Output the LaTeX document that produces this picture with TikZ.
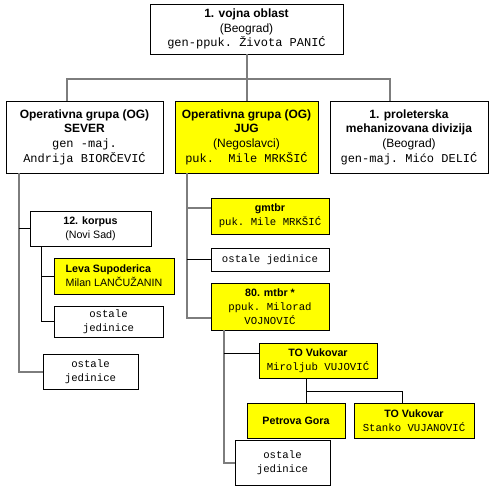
\documentclass[tikz,border=0pt]{standalone}
\usepackage{fontspec}
\setmainfont{Liberation Sans}
\setmonofont{Liberation Mono}
\usepackage{tikz}
\usetikzlibrary{positioning, calc}
\definecolor{obYellow}{RGB}{255, 255, 0}
\definecolor{obGray}{RGB}{125, 125, 125}

\begin{document}
\begin{tikzpicture}[x=0.75pt, y=-0.75pt,
  unitbox/.style={draw, line width=0.6pt, fill=white, inner sep=1pt, align=center, font=\fontsize{8}{10.5}\selectfont},
  hqbox/.style={unitbox, font=\fontsize{9}{11}\selectfont},
  yel/.style={fill=obYellow},
  wh/.style 2 args={minimum width=#1*0.75pt, minimum height=#2*0.75pt},
  trunk/.style={obGray, line width=1.5pt},
  twig/.style={black, line width=0.6pt}]
  \useasboundingbox (0,0) rectangle (490,497);

  % Command level
  \node[hqbox, wh={193}{50}] (vo) at (246.5,29)
    {\textbf{1. vojna oblast}\\(Beograd)\\\texttt{gen-ppuk. Života PANIĆ}};

  % Operational groups
  \node[hqbox, wh={157}{72}] (sever) at (84.5,137)
    {\textbf{Operativna grupa (OG)}\\\textbf{SEVER}\\\texttt{gen -maj.}\\\texttt{Andrija BIORČEVIĆ}};
  \node[hqbox, yel, wh={143}{72}] (jug) at (246.5,137)
    {\textbf{Operativna grupa (OG)}\\\textbf{JUG}\\(Negoslavci)\\\texttt{puk.~~Mile MRKŠIĆ}};
  \node[hqbox, wh={158}{72}] (prol) at (409,137)
    {\textbf{1. proleterska}\\\textbf{mehanizovana divizija}\\(Beograd)\\\texttt{gen-maj. Mićo DELIĆ}};

  % SEVER units
  \node[unitbox, wh={121}{35}] (korpus) at (90.5,228.5) {\textbf{12. korpus}\\(Novi Sad)};
  \node[unitbox, yel, wh={120}{36}, align=left] (leva) at (114,276)
    {\textbf{Leva Supoderica}\\Milan LANČUŽANIN};
  \node[unitbox, wh={109}{31}] (ost1) at (108.5,321.5) {\texttt{ostale}\\\texttt{jedinice}};
  \node[unitbox, wh={95}{35}] (ost2) at (90.5,371.5) {\texttt{ostale}\\\texttt{jedinice}};

  % JUG units
  \node[unitbox, yel, wh={118}{36}] (gmtbr) at (270,216) {\textbf{gmtbr}\\\texttt{puk. Mile MRKŠIĆ}};
  \node[unitbox, wh={118}{23}] (ost3) at (270,259.5) {\texttt{ostale jedinice}};
  \node[unitbox, yel, wh={118}{47}] (mtbr) at (270,306.5)
    {\textbf{80. mtbr *}\\\texttt{ppuk. Milorad}\\\texttt{VOJNOVIĆ}};
  \node[unitbox, yel, wh={118}{35}] (tov1) at (318,360.5) {\textbf{TO Vukovar}\\\texttt{Miroljub VUJOVIĆ}};
  \node[unitbox, yel, wh={98}{35}] (petrova) at (296,420.5) {\textbf{Petrova Gora}};
  \node[unitbox, yel, wh={120}{35}] (tov2) at (414,420.5) {\textbf{TO Vukovar}\\\texttt{Stanko VUJANOVIĆ}};
  \node[unitbox, wh={95}{45}] (ost4) at (282.5,462.5) {\texttt{ostale}\\\texttt{jedinice}};

  % Top bus
  \draw[trunk] (vo.south) -- ++(0,25) coordinate (bus);
  \draw[trunk] ($(sever.north west)+(61,0)$) |- (bus) -| ($(prol.north west)+(60,0)$);
  \draw[trunk] (bus) -- (jug.north);

  % SEVER branch
  \coordinate (sv) at ($(sever.south west)+(13,0)$);
  \draw[trunk] (sv) |- (ost2.west);
  \draw[twig] (sv |- korpus.west) -- (korpus.west);

  % 12. korpus branch
  \coordinate (kp) at ($(korpus.south west)+(12,0)$);
  \draw[twig] (kp) |- (ost1.west);
  \draw[twig] (kp |- leva.west) -- (leva.west);

  % JUG branch
  \coordinate (jg) at ($(jug.south west)+(12,0)$);
  \coordinate (jgm) at ($(gmtbr.north west)+(0,10)$);
  \coordinate (jmt) at ($(mtbr.south west)+(0,-12)$);
  \draw[trunk] (jg) |- (jmt);
  \draw[trunk] (jg |- jgm) -- (jgm);
  \draw[twig] (jg |- ost3.west) -- (ost3.west);

  % 80. mtbr branch
  \coordinate (mt) at ($(mtbr.south west)+(13,0)$);
  \coordinate (mtv) at ($(tov1.north west)+(0,11)$);
  \draw[trunk] (mt) |- (ost4.west);
  \draw[twig] (mt |- mtv) -- (mtv);

  % TO Vukovar branch
  \coordinate (tv) at ($(tov1.south west)+(48,0)$);
  \draw[twig] (tv) -- (tv |- petrova.north);
  \draw[twig] ($(tv)+(0,13)$) -| ($(tov2.north west)+(49,0)$);
\end{tikzpicture}
\end{document}
